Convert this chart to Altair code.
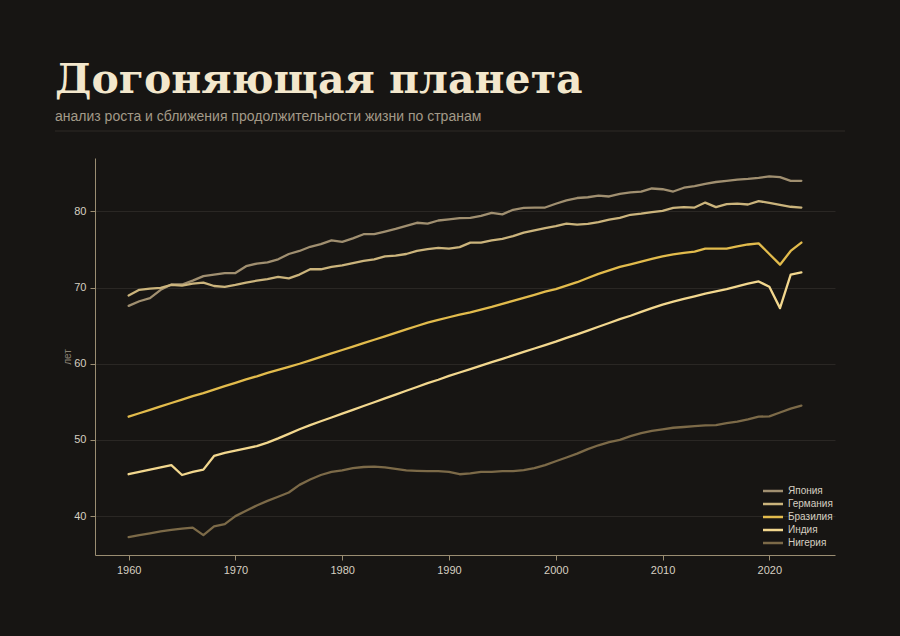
import altair as alt
import pandas as pd

years = list(range(1960, 2024))

japan = [67.6, 68.2, 68.6, 69.7, 70.4, 70.4, 70.9, 71.5, 71.7, 71.9,
         71.9, 72.8, 73.15, 73.3, 73.7, 74.4, 74.8, 75.35, 75.7, 76.2,
         76.0, 76.45, 77.0, 77.0, 77.35, 77.7, 78.1, 78.5, 78.4, 78.8,
         78.95, 79.1, 79.15, 79.4, 79.8, 79.6, 80.2, 80.45, 80.5, 80.5,
         81.0, 81.45, 81.75, 81.85, 82.05, 81.95, 82.3, 82.5, 82.6, 83.0,
         82.9, 82.6, 83.1, 83.3, 83.6, 83.85, 84.0, 84.15, 84.25, 84.4,
         84.6, 84.5, 84.0, 84.0]

germany = [68.95, 69.7, 69.85, 69.95, 70.35, 70.25, 70.5, 70.65, 70.2, 70.1,
           70.35, 70.65, 70.9, 71.1, 71.4, 71.2, 71.7, 72.4, 72.4, 72.7,
           72.9, 73.2, 73.5, 73.7, 74.1, 74.2, 74.4, 74.8, 75.05, 75.2,
           75.1, 75.3, 75.9, 75.9, 76.2, 76.4, 76.75, 77.2, 77.5, 77.8,
           78.05, 78.4, 78.25, 78.35, 78.6, 78.9, 79.15, 79.55, 79.7, 79.9,
           80.05, 80.45, 80.55, 80.5, 81.15, 80.55, 80.95, 81.0, 80.9, 81.35,
           81.1, 80.85, 80.6, 80.5]

brazil = [53.05, 53.5, 53.95, 54.4, 54.85, 55.3, 55.75, 56.15, 56.6, 57.05,
          57.5, 57.95, 58.35, 58.8, 59.2, 59.6, 60.0, 60.45, 60.9, 61.35,
          61.8, 62.25, 62.7, 63.15, 63.6, 64.05, 64.5, 64.95, 65.4, 65.75,
          66.1, 66.45, 66.75, 67.1, 67.45, 67.85, 68.25, 68.65, 69.05, 69.45,
          69.8, 70.25, 70.7, 71.25, 71.8, 72.25, 72.7, 73.05, 73.4, 73.75,
          74.1, 74.35, 74.55, 74.7, 75.1, 75.1, 75.1, 75.4, 75.65, 75.8,
          74.4, 73.0, 74.8, 75.9]

india = [45.5, 45.8, 46.1, 46.4, 46.7, 45.4, 45.8, 46.1, 47.9, 48.3,
         48.6, 48.9, 49.2, 49.65, 50.2, 50.8, 51.4, 51.95, 52.45, 52.95,
         53.45, 53.95, 54.45, 54.95, 55.45, 55.95, 56.45, 56.95, 57.45, 57.9,
         58.4, 58.85, 59.3, 59.75, 60.2, 60.65, 61.1, 61.55, 62.0, 62.45,
         62.9, 63.4, 63.85, 64.35, 64.85, 65.35, 65.85, 66.3, 66.8, 67.3,
         67.75, 68.15, 68.5, 68.85, 69.2, 69.5, 69.8, 70.15, 70.5, 70.8,
         70.1, 67.3, 71.7, 72.0]

nigeria = [37.25, 37.5, 37.75, 38.0, 38.2, 38.35, 38.5, 37.5, 38.65, 38.95,
           40.0, 40.7, 41.4, 42.0, 42.55, 43.1, 44.1, 44.8, 45.4, 45.8,
           46.0, 46.3, 46.45, 46.5, 46.4, 46.2, 46.0, 45.95, 45.9, 45.9,
           45.8, 45.5, 45.6, 45.8, 45.8, 45.9, 45.9, 46.05, 46.3, 46.7,
           47.2, 47.7, 48.2, 48.8, 49.3, 49.7, 50.0, 50.5, 50.9, 51.2,
           51.4, 51.6, 51.7, 51.8, 51.9, 51.95, 52.2, 52.4, 52.7, 53.05,
           53.1, 53.6, 54.1, 54.5]

countries = ["Япония", "Германия", "Бразилия", "Индия", "Нигерия"]
series = [japan, germany, brazil, india, nigeria]
colors = ["#a08f70", "#cbb47c", "#e2bb4c", "#f2d78e", "#7c6a48"]

rows = []
for name, vals in zip(countries, series):
    for y, v in zip(years, vals):
        rows.append({"year": y, "value": v, "country": name})
df = pd.DataFrame(rows)

BG = "#171513"
FONT = "Liberation Sans"

lines = alt.Chart(df).mark_line(strokeWidth=2.3, strokeCap="round", strokeJoin="round").encode(
    x=alt.X("year:Q",
            scale=alt.Scale(domain=[1956.85, 2026.15], nice=False, zero=False),
            axis=alt.Axis(values=[1960, 1970, 1980, 1990, 2000, 2010, 2020],
                          format="d", title=None, grid=False,
                          domainColor="#9a8d72", tickColor="#9a8d72",
                          tickSize=5, labelColor="#d6cfc1", labelFontSize=11,
                          labelPadding=4, labelFont=FONT)),
    y=alt.Y("value:Q",
            scale=alt.Scale(domain=[34.9, 87.0], nice=False, zero=False),
            axis=alt.Axis(values=[40, 50, 60, 70, 80], title="лет",
                          grid=True, gridColor="#2a2724", gridWidth=1,
                          domainColor="#9a8d72", tickColor="#9a8d72",
                          tickSize=5, labelColor="#d6cfc1", labelFontSize=11,
                          labelPadding=4, labelFont=FONT,
                          titleColor="#8a8274", titleFontSize=10,
                          titleFontWeight="normal", titleFont=FONT,
                          titlePadding=1)),
    color=alt.Color("country:N",
                    scale=alt.Scale(domain=countries, range=colors),
                    sort=countries,
                    legend=alt.Legend(title=None, orient="none",
                                      legendX=671.5, legendY=326.5,
                                      symbolType="M-2,0L2,0", symbolSize=100,
                                      symbolStrokeWidth=2.5,
                                      labelColor="#d6cfc1", labelFontSize=10,
                                      labelFont=FONT, rowPadding=1,
                                      labelOffset=8.5)),
    detail="country:N",
)

rule = alt.Chart(pd.DataFrame({"k": [0]})).mark_rule(color="#2f2b27", strokeWidth=1).encode(
    x=alt.value(-40), x2=alt.value(750), y=alt.value(-27)
)

chart = alt.layer(rule, lines).properties(
    width=740,
    height=397,
    background=BG,
    padding={"left": 95, "top": 158, "right": 65, "bottom": 81},
    autosize=alt.AutoSizeParams(type="none"),
    title=alt.TitleParams(
        text="Догоняющая планета",
        subtitle="анализ роста и сближения продолжительности жизни по странам",
        anchor="start",
        frame="group",
        dx=-40,
        offset=6,
        font="DejaVu Serif",
        fontSize=41,
        fontWeight="bold",
        color="#f3e7cc",
        subtitleFont=FONT,
        subtitleFontSize=14,
        subtitleColor="#a39a88",
        subtitlePadding=8,
    ),
).configure(background=BG, view=alt.ViewConfig(stroke=None))

chart.save("out.html", embed_options={"renderer": "svg", "actions": False})
